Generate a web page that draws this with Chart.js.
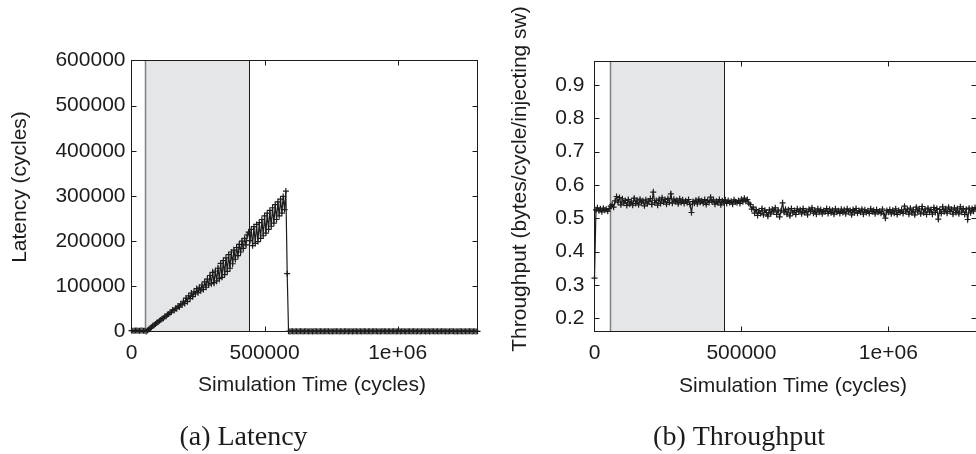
<!DOCTYPE html>
<html>
<head>
<meta charset="utf-8">
<title>Latency and throughput</title>
<script src="https://cdn.jsdelivr.net/npm/chart.js@4.4.0/dist/chart.umd.min.js"></script>
<style>
  html, body { margin: 0; padding: 0; background: #fff; overflow: hidden; }
  body { width: 976px; height: 454px; position: relative; }
  canvas { position: absolute; top: 0; }
  #lat { left: 0; }
  #tput { left: 490px; }
</style>
</head>
<body>
<canvas id="lat" width="490" height="454"></canvas>
<canvas id="tput" width="500" height="454"></canvas>
<script>
// x axis (shared by both plots)
const xTickValues = [0, 500000, 1000000];
const xTickLabels = ['0', '500000', '1e+06'];
const xMax = 1300000;

// grey band: the window where the flow is active
const shadeFrom = 52000;
const shadeTo = 440000;

// sample times, one every 5000 cycles
const cycles = [
  0, 5000, 10000, 15000, 20000, 25000, 30000, 35000, 40000, 45000,
  50000, 55000, 60000, 65000, 70000, 75000, 80000, 85000, 90000, 95000,
  100000, 105000, 110000, 115000, 120000, 125000, 130000, 135000, 140000, 145000,
  150000, 155000, 160000, 165000, 170000, 175000, 180000, 185000, 190000, 195000,
  200000, 205000, 210000, 215000, 220000, 225000, 230000, 235000, 240000, 245000,
  250000, 255000, 260000, 265000, 270000, 275000, 280000, 285000, 290000, 295000,
  300000, 305000, 310000, 315000, 320000, 325000, 330000, 335000, 340000, 345000,
  350000, 355000, 360000, 365000, 370000, 375000, 380000, 385000, 390000, 395000,
  400000, 405000, 410000, 415000, 420000, 425000, 430000, 435000, 440000, 445000,
  450000, 455000, 460000, 465000, 470000, 475000, 480000, 485000, 490000, 495000,
  500000, 505000, 510000, 515000, 520000, 525000, 530000, 535000, 540000, 545000,
  550000, 555000, 560000, 565000, 570000, 575000, 580000, 585000, 590000, 595000,
  600000, 605000, 610000, 615000, 620000, 625000, 630000, 635000, 640000, 645000,
  650000, 655000, 660000, 665000, 670000, 675000, 680000, 685000, 690000, 695000,
  700000, 705000, 710000, 715000, 720000, 725000, 730000, 735000, 740000, 745000,
  750000, 755000, 760000, 765000, 770000, 775000, 780000, 785000, 790000, 795000,
  800000, 805000, 810000, 815000, 820000, 825000, 830000, 835000, 840000, 845000,
  850000, 855000, 860000, 865000, 870000, 875000, 880000, 885000, 890000, 895000,
  900000, 905000, 910000, 915000, 920000, 925000, 930000, 935000, 940000, 945000,
  950000, 955000, 960000, 965000, 970000, 975000, 980000, 985000, 990000, 995000,
  1000000, 1005000, 1010000, 1015000, 1020000, 1025000, 1030000, 1035000, 1040000, 1045000,
  1050000, 1055000, 1060000, 1065000, 1070000, 1075000, 1080000, 1085000, 1090000, 1095000,
  1100000, 1105000, 1110000, 1115000, 1120000, 1125000, 1130000, 1135000, 1140000, 1145000,
  1150000, 1155000, 1160000, 1165000, 1170000, 1175000, 1180000, 1185000, 1190000, 1195000,
  1200000, 1205000, 1210000, 1215000, 1220000, 1225000, 1230000, 1235000, 1240000, 1245000,
  1250000, 1255000, 1260000, 1265000, 1270000, 1275000, 1280000, 1285000, 1290000, 1295000,
  1300000
];

// (a) latency, cycles
const latValues = [
  2100, 1900, 1800, 2300, 2400, 1600, 1500, 2200, 2000, 1800,
  1700, 0, 2000, 4500, 7000, 9500, 12500, 14000, 16500, 19500,
  21000, 24000, 25500, 28500, 29500, 33000, 33500, 37500, 38500, 42000,
  43000, 47500, 46500, 51000, 50500, 56500, 54000, 61000, 59000, 67000,
  62000, 74000, 66000, 79000, 73000, 85000, 77000, 88000, 83000, 95000,
  86000, 98000, 90000, 103000, 93000, 110000, 98000, 116000, 103000, 124000,
  106000, 131000, 108000, 134000, 112000, 140000, 117000, 151000, 120000, 157000,
  126000, 163000, 133000, 170000, 140000, 176000, 150000, 180000, 160000, 186000,
  168000, 193000, 176000, 200000, 184000, 206000, 192000, 214000, 220000, 201000,
  226000, 190000, 232000, 195000, 237000, 199000, 241000, 206000, 248000, 212000,
  256000, 218000, 262000, 226000, 268000, 233000, 274000, 240000, 281000, 248000,
  287000, 256000, 293000, 262000, 299000, 270000, 311000, 128000, 400, 250,
  450, 300, 200, 500, 350, 250, 400, 550, 300, 200,
  450, 350, 500, 250, 300, 400, 200, 450, 350, 500,
  250, 400, 300, 450, 200, 350, 500, 300, 400, 250,
  450, 200, 350, 500, 300, 400, 250, 450, 350, 200,
  500, 300, 400, 250, 450, 350, 200, 500, 300, 400,
  250, 450, 350, 200, 400, 500, 300, 250, 450, 350,
  200, 400, 500, 300, 350, 250, 450, 200, 400, 500,
  300, 350, 250, 450, 400, 200, 500, 350, 300, 250,
  450, 400, 200, 350, 500, 300, 250, 450, 400, 350,
  200, 500, 300, 450, 250, 400, 350, 200, 500, 300,
  450, 250, 400, 350, 200, 500, 300, 450, 250, 400,
  350, 200, 500, 300, 450, 400, 250, 350, 200, 500,
  300, 450, 400, 250, 350, 200, 500, 300, 450, 250,
  400, 350, 200, 500, 300, 450, 250, 400, 350, 200,
  350
];
const latTickValues = [0, 100000, 200000, 300000, 400000, 500000, 600000];

// (b) throughput, bytes/cycle/injecting switch
const tputValues = [
  0.32, 0.525, 0.531, 0.522, 0.528, 0.519, 0.530, 0.524, 0.527, 0.521,
  0.529, 0.536, 0.541, 0.533, 0.552, 0.565, 0.548, 0.562, 0.540, 0.558,
  0.545, 0.553, 0.538, 0.556, 0.542, 0.551, 0.539, 0.560, 0.544, 0.554,
  0.540, 0.557, 0.546, 0.552, 0.537, 0.555, 0.543, 0.550, 0.559, 0.541,
  0.578, 0.546, 0.553, 0.539, 0.557, 0.544, 0.561, 0.548, 0.556, 0.542,
  0.559, 0.547, 0.573, 0.545, 0.557, 0.549, 0.554, 0.543, 0.558, 0.547,
  0.555, 0.544, 0.552, 0.546, 0.556, 0.541, 0.517, 0.550, 0.545, 0.554,
  0.543, 0.557, 0.548, 0.552, 0.545, 0.556, 0.541, 0.553, 0.547, 0.563,
  0.549, 0.555, 0.542, 0.551, 0.546, 0.556, 0.540, 0.552, 0.548, 0.555,
  0.544, 0.553, 0.547, 0.551, 0.542, 0.555, 0.549, 0.546, 0.553, 0.544,
  0.557, 0.549, 0.560, 0.551, 0.556, 0.545, 0.541, 0.527, 0.533, 0.515,
  0.526, 0.508, 0.522, 0.514, 0.529, 0.510, 0.524, 0.517, 0.506, 0.525,
  0.513, 0.527, 0.519, 0.531, 0.511, 0.524, 0.504, 0.522, 0.546, 0.518,
  0.527, 0.512, 0.525, 0.507, 0.529, 0.516, 0.523, 0.511, 0.528, 0.519,
  0.525, 0.513, 0.529, 0.517, 0.522, 0.510, 0.527, 0.520, 0.531, 0.515,
  0.524, 0.512, 0.528, 0.518, 0.526, 0.513, 0.523, 0.519, 0.529, 0.514,
  0.527, 0.516, 0.524, 0.512, 0.528, 0.518, 0.522, 0.514, 0.527, 0.517,
  0.525, 0.513, 0.528, 0.519, 0.523, 0.510, 0.526, 0.516, 0.529, 0.515,
  0.523, 0.518, 0.527, 0.512, 0.525, 0.517, 0.522, 0.514, 0.528, 0.519,
  0.524, 0.513, 0.526, 0.518, 0.521, 0.515, 0.527, 0.512, 0.500, 0.523,
  0.518, 0.526, 0.513, 0.524, 0.515, 0.528, 0.511, 0.523, 0.517, 0.525,
  0.514, 0.536, 0.519, 0.527, 0.512, 0.530, 0.516, 0.525, 0.510, 0.533,
  0.519, 0.528, 0.513, 0.535, 0.516, 0.527, 0.511, 0.530, 0.518, 0.526,
  0.512, 0.532, 0.517, 0.529, 0.497, 0.526, 0.514, 0.534, 0.519, 0.528,
  0.515, 0.533, 0.520, 0.527, 0.512, 0.531, 0.517, 0.528, 0.513, 0.534,
  0.518, 0.529, 0.511, 0.527, 0.496, 0.530, 0.516, 0.528, 0.521, 0.532,
  0.526
];
const tputTickValues = [0.2, 0.3, 0.4, 0.5, 0.6, 0.7, 0.8, 0.9];

const ink = '#1c1c1c';
Chart.defaults.font.family = '"Liberation Sans", Arial, sans-serif';
Chart.defaults.font.size = 21;
Chart.defaults.color = ink;

function hline(ctx, x0, x1, y) {
  ctx.beginPath(); ctx.moveTo(x0, y); ctx.lineTo(x1, y); ctx.stroke();
}
function vline(ctx, x, y0, y1) {
  ctx.beginPath(); ctx.moveTo(x, y0); ctx.lineTo(x, y1); ctx.stroke();
}

// gnuplot-ish look: shaded window, closed frame with inward ticks, labels and caption
const paperPlugin = {
  id: 'paper',
  beforeDatasetsDraw(chart, args, opts) {
    const { ctx, chartArea: a, scales: { x } } = chart;
    const x0 = Math.round(x.getPixelForValue(opts.shadeFrom)) + 0.5;
    const x1 = Math.round(x.getPixelForValue(opts.shadeTo)) + 0.5;
    ctx.save();
    ctx.fillStyle = '#e5e6e8';
    ctx.fillRect(x0, a.top, x1 - x0, a.bottom - a.top);
    ctx.strokeStyle = '#808080';
    ctx.lineWidth = 1.5;
    vline(ctx, x0, a.top, a.bottom);
    ctx.strokeStyle = ink;
    ctx.lineWidth = 1;
    vline(ctx, x1, a.top, a.bottom);
    ctx.restore();
  },
  afterDatasetsDraw(chart) {
    const { ctx, chartArea: a, scales: { x, y } } = chart;
    const len = 5;
    ctx.save();
    ctx.strokeStyle = ink;
    ctx.lineWidth = 1;
    ctx.strokeRect(a.left, a.top, a.right - a.left, a.bottom - a.top);
    x.ticks.forEach(t => {
      const px = Math.round(x.getPixelForValue(t.value)) + 0.5;
      if (px <= a.left + 1 || px >= a.right - 1) return;
      vline(ctx, px, a.bottom, a.bottom - len);
      vline(ctx, px, a.top, a.top + len);
    });
    y.ticks.forEach(t => {
      const py = Math.round(y.getPixelForValue(t.value)) + 0.5;
      if (py <= a.top + 1 || py >= a.bottom - 1) return;
      hline(ctx, a.left, a.left + len, py);
      hline(ctx, a.right, a.right - len, py);
    });
    ctx.restore();
  },
  afterDraw(chart, args, opts) {
    const ctx = chart.ctx;
    ctx.save();
    ctx.fillStyle = ink;
    ctx.textAlign = 'center';
    ctx.font = '21px "Liberation Sans", Arial, sans-serif';
    ctx.textBaseline = 'alphabetic';
    ctx.fillText(opts.xTitle, opts.xTitleX, opts.xTitleY);
    ctx.save();
    ctx.translate(opts.yTitleX, opts.yTitleY);
    ctx.rotate(-Math.PI / 2);
    ctx.textBaseline = 'middle';
    ctx.fillText(opts.yTitle, 0, 0);
    ctx.restore();
    ctx.font = '28px "Liberation Serif", "Times New Roman", serif';
    ctx.fillText(opts.caption, opts.captionX, opts.captionY);
    ctx.restore();
  }
};

function makePlot(id, values, yAxis, frame, paper) {
  const points = cycles.map((c, i) => ({ x: c, y: values[i] }));
  return new Chart(document.getElementById(id), {
    type: 'line',
    data: {
      datasets: [{
        data: points,
        borderColor: ink,
        borderWidth: 1.2,
        pointStyle: 'cross',
        pointRadius: 3,
        pointBorderColor: ink,
        pointBorderWidth: 1.2,
        tension: 0,
        clip: 5
      }]
    },
    options: {
      responsive: false,
      animation: false,
      devicePixelRatio: 1,
      layout: { padding: { top: frame.top, right: frame.right, left: 0, bottom: 0 } },
      plugins: {
        legend: { display: false },
        tooltip: { enabled: false },
        paper: paper
      },
      scales: {
        x: {
          type: 'linear',
          min: 0,
          max: xMax,
          grid: { display: false, drawTicks: false },
          border: { display: false },
          afterBuildTicks: s => { s.ticks = xTickValues.map(v => ({ value: v })); },
          afterFit: s => { s.height = frame.xHeight; },
          ticks: {
            autoSkip: false,
            maxRotation: 0,
            padding: 9,
            callback: v => xTickLabels[xTickValues.indexOf(v)]
          }
        },
        y: {
          type: 'linear',
          min: yAxis.min,
          max: yAxis.max,
          grid: { display: false, drawTicks: false },
          border: { display: false },
          afterBuildTicks: s => { s.ticks = yAxis.ticks.map(v => ({ value: v })); },
          afterFit: s => { s.width = frame.yWidth; },
          ticks: {
            autoSkip: false,
            padding: yAxis.padding,
            callback: yAxis.label
          }
        }
      }
    },
    plugins: [paperPlugin]
  });
}

makePlot('lat', latValues,
  { min: 0, max: 600000, ticks: latTickValues, padding: 6, label: v => String(v) },
  { top: 60.5, right: 12.5, xHeight: 122.5, yWidth: 131.5 },
  {
    shadeFrom: shadeFrom, shadeTo: shadeTo,
    xTitle: 'Simulation Time (cycles)', xTitleX: 312, xTitleY: 391,
    yTitle: 'Latency (cycles)', yTitleX: 20, yTitleY: 187,
    caption: '(a) Latency', captionX: 243.5, captionY: 445
  });

makePlot('tput', tputValues,
  { min: 0.16, max: 0.97, ticks: tputTickValues, padding: 10, label: v => v.toFixed(1) },
  { top: 61.5, right: 13.5, xHeight: 122.5, yWidth: 104.5 },
  {
    shadeFrom: shadeFrom, shadeTo: shadeTo,
    xTitle: 'Simulation Time (cycles)', xTitleX: 303, xTitleY: 392,
    yTitle: 'Throughput (bytes/cycle/injecting sw)', yTitleX: 30, yTitleY: 179,
    caption: '(b) Throughput', captionX: 249, captionY: 445
  });
</script>
</body>
</html>
